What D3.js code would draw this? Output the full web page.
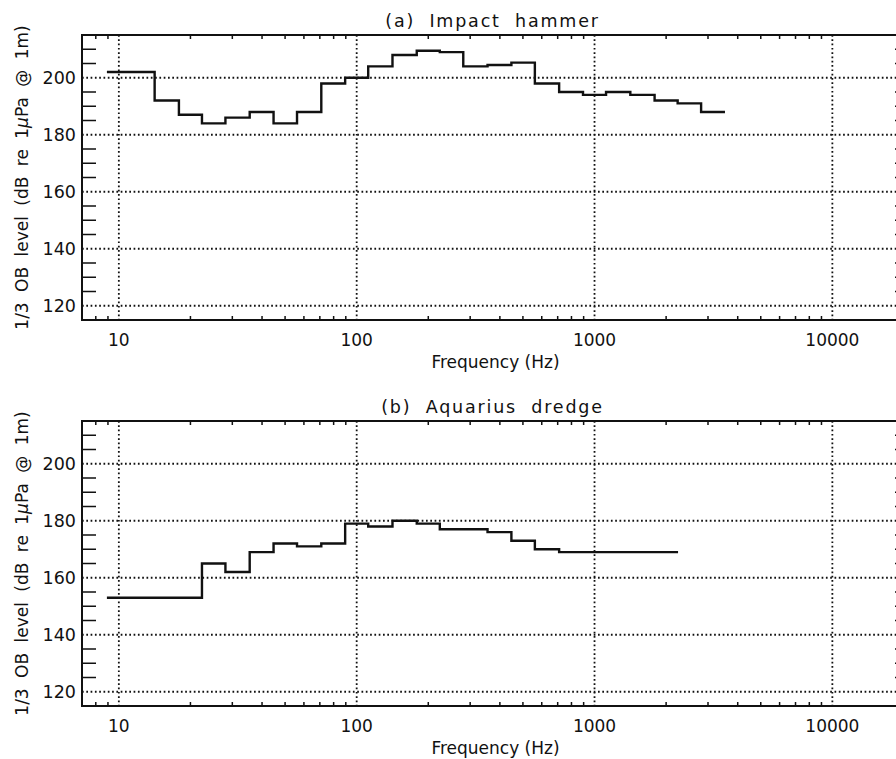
<!DOCTYPE html>
<html>
<head>
<meta charset="utf-8">
<script src="https://cdn.jsdelivr.net/npm/d3@7"></script>
<style>
  body { margin: 0; background: #fff; }
  svg { display: block; }
  text { font-family: "DejaVu Sans", sans-serif; fill: #111; }
</style>
</head>
<body>
<div id="chart"></div>
<script>
// 1/3 octave band centre frequencies (Hz)
var bandCentres = [10, 12.5, 16, 20, 25, 31.5, 40, 50, 63, 80,
                   100, 125, 160, 200, 250, 315, 400, 500, 630, 800,
                   1000, 1250, 1600, 2000, 2500, 3150];

// levels, dB re 1 uPa @ 1m
var hammerLevels = [202, 202, 192, 187, 184, 186, 188, 184, 188, 198,
                    200, 204, 208, 209.5, 209, 204, 204.5, 205.3, 198, 195,
                    194, 195, 194, 192, 191, 188];
var dredgeLevels = [153, 153, 153, 153, 165, 162, 169, 172, 171, 172,
                    179, 178, 180, 179, 177, 177, 176, 173, 170, 169,
                    169, 169, 169, 169];

var panelTitles = ["(a) Impact hammer", "(b) Aquarius dredge"];
var xTickValues = [10, 100, 1000, 10000];
var yTickValues = [120, 140, 160, 180, 200];

var w = 896,
    h = 759;

var margin = {left: 82, right: 909},
    panelTop = [35, 421],
    panelH = 285;

var svg = d3.select("#chart").append("svg")
    .attr("width", w)
    .attr("height", h);

var x = d3.scaleLog().domain([7, 21000]).range([margin.left, margin.right]);

// minor tick positions on the log axis
var xMinor = [];
[1, 10, 100, 1000, 10000].forEach(function (dec) {
    for (var k = 2; k <= 9; k++) {
        var f = dec * k;
        if (f > 7 && f < 21000) xMinor.push(f);
    }
});
var yMinor = d3.range(115, 216, 5).filter(function (v) {
    return v % 20 !== 0 && v > 115 && v < 215;
});

function stepPoints(levels) {
    var fc = bandCentres.slice(0, levels.length);
    var edges = [fc[0] / Math.pow(2, 1 / 6)];
    for (var i = 1; i < fc.length; i++) edges.push(Math.sqrt(fc[i - 1] * fc[i]));
    edges.push(fc[fc.length - 1] * Math.pow(2, 1 / 6));
    var pts = [];
    levels.forEach(function (v, i) {
        pts.push([edges[i], v]);
        pts.push([edges[i + 1], v]);
    });
    return pts;
}

function drawPanel(top, title, levels) {
    var y = d3.scaleLinear().domain([115, 215]).range([top + panelH, top]);
    var g = svg.append("g");

    // dotted grid
    g.selectAll(".hgrid")
        .data(yTickValues)
        .enter().append("line")
        .attr("x1", margin.left).attr("x2", margin.right)
        .attr("y1", function (d) { return y(d); })
        .attr("y2", function (d) { return y(d); })
        .attr("stroke", "#111").attr("stroke-width", 1.8)
        .attr("stroke-dasharray", "1.7,2.6");

    g.selectAll(".vgrid")
        .data(xTickValues)
        .enter().append("line")
        .attr("x1", function (d) { return x(d); })
        .attr("x2", function (d) { return x(d); })
        .attr("y1", top).attr("y2", top + panelH)
        .attr("stroke", "#111").attr("stroke-width", 1.8)
        .attr("stroke-dasharray", "1.7,2.6");

    // minor ticks, x on bottom and top
    g.selectAll(".xminor")
        .data(xMinor)
        .enter().append("path")
        .attr("d", function (d) {
            return "M" + x(d) + "," + (top + panelH) + "v-4" +
                   "M" + x(d) + "," + top + "v4";
        })
        .attr("stroke", "#111").attr("stroke-width", 1.5);

    // minor ticks, y on left and right
    g.selectAll(".yminor")
        .data(yMinor)
        .enter().append("path")
        .attr("d", function (d) {
            return "M" + margin.left + "," + y(d) + "h14" +
                   "M" + margin.right + "," + y(d) + "h-14";
        })
        .attr("stroke", "#111").attr("stroke-width", 1.7);

    // frame
    g.append("rect")
        .attr("x", margin.left).attr("y", top)
        .attr("width", margin.right - margin.left).attr("height", panelH)
        .attr("fill", "none").attr("stroke", "#111").attr("stroke-width", 2);

    // the spectrum
    var line = d3.line()
        .x(function (d) { return x(d[0]); })
        .y(function (d) { return y(d[1]); });

    g.append("path")
        .datum(stepPoints(levels))
        .attr("d", line)
        .attr("fill", "none")
        .attr("stroke", "#111")
        .attr("stroke-width", 2.4);

    // tick labels
    g.selectAll(".ylab")
        .data(yTickValues)
        .enter().append("text")
        .attr("x", 76)
        .attr("y", function (d) { return y(d) + 6.5; })
        .attr("text-anchor", "end")
        .style("font-size", "17.5px")
        .text(function (d) { return d; });

    g.selectAll(".xlab")
        .data(xTickValues)
        .enter().append("text")
        .attr("x", function (d) { return x(d); })
        .attr("y", top + panelH + 26)
        .attr("text-anchor", "middle")
        .style("font-size", "17px")
        .text(function (d) { return d; });

    var cx = (margin.left + margin.right) / 2;

    g.append("text")
        .attr("x", cx)
        .attr("y", top + panelH + 48)
        .attr("text-anchor", "middle")
        .style("font-size", "17px")
        .text("Frequency (Hz)");

    g.append("text")
        .attr("x", cx - 3)
        .attr("y", top - 8)
        .attr("text-anchor", "middle")
        .style("font-size", "17.5px")
        .style("letter-spacing", "1.8px")
        .style("word-spacing", "7px")
        .text(title);

    var yl = g.append("text")
        .attr("transform", "translate(28," + (top + panelH / 2) + ") rotate(-90)")
        .attr("text-anchor", "middle")
        .style("font-size", "17px")
        .style("word-spacing", "5px");
    yl.append("tspan").text("1/3 OB level (dB re 1");
    yl.append("tspan").style("font-style", "italic").text("\u03bc");
    yl.append("tspan").text("Pa @ 1m)");
}

drawPanel(panelTop[0], panelTitles[0], hammerLevels);
drawPanel(panelTop[1], panelTitles[1], dredgeLevels);
</script>
</body>
</html>
